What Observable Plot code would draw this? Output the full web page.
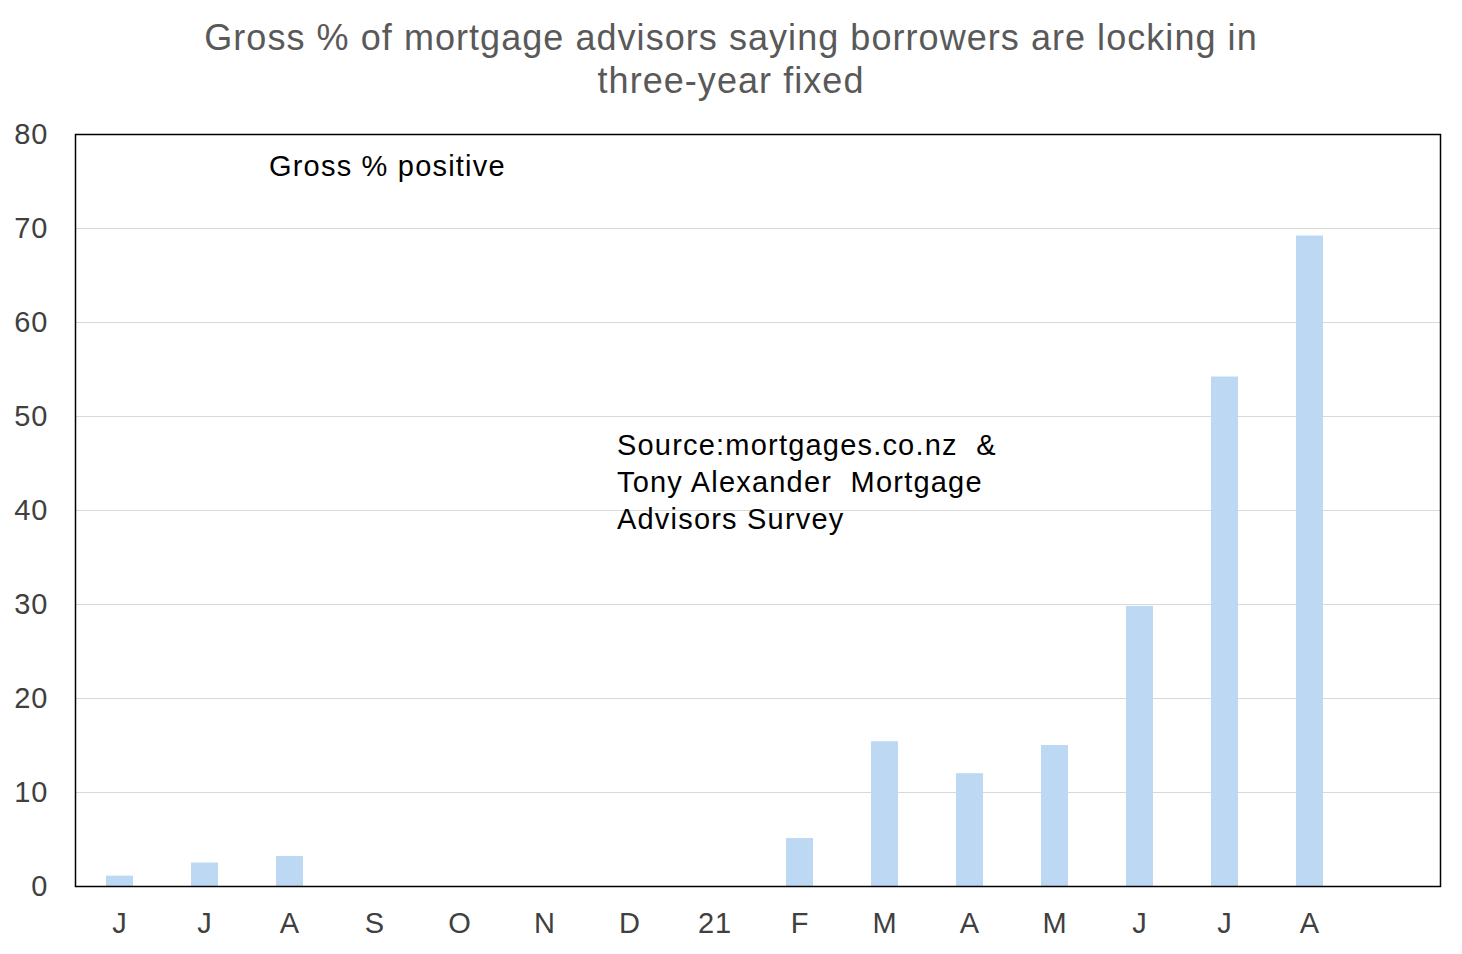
<!DOCTYPE html>
<html>
<head>
<meta charset="utf-8">
<script src="https://cdn.jsdelivr.net/npm/d3@7"></script>
<script src="https://cdn.jsdelivr.net/npm/@observablehq/plot@0.6"></script>
<style>
  body { margin: 0; background: #fff; font-family: "Liberation Sans", Arial, sans-serif; }
  #title { height: 110px; box-sizing: border-box; padding-top: 16px; text-align: center;
           font-size: 36px; line-height: 43px; color: #595959; letter-spacing: 1.05px; }
  #chart svg { display: block; }
  #chart svg text { letter-spacing: 1px; }
  #chart svg g[aria-label="text"] text { letter-spacing: 1.2px; }
</style>
</head>
<body>
<div id="title">Gross % of mortgage advisors saying borrowers are locking in<br>three-year fixed</div>
<div id="chart"></div>
<script>
// Month slots (unique ids), their tick labels, and the series values (null = no bar)
const months = ["Jun20","Jul20","Aug20","Sep20","Oct20","Nov20","Dec20","Jan21","Feb21","Mar21","Apr21","May21","Jun21","Jul21","Aug21","Sep21"];
const tickLabels = ["J","J","A","S","O","N","D","21","F","M","A","M","J","J","A",""];
const grossPositive = [1.1, 2.5, 3.2, null, null, null, null, null, 5.1, 15.4, 12.0, 15.0, 29.8, 54.2, 69.2, null];
const yTicks = [0, 10, 20, 30, 40, 50, 60, 70, 80];

const data = months.map((m, i) => ({month: m, value: grossPositive[i]})).filter(d => d.value != null);
const labelOf = new Map(months.map((m, i) => [m, tickLabels[i]]));

const seriesLabel = [{month: "Aug20", value: 76.6, text: "Gross % positive"}];
const sourceNote = [{month: "Dec20", value: 43.2, text: "Source:mortgages.co.nz  &\nTony Alexander  Mortgage\nAdvisors Survey"}];

const chart = Plot.plot({
  width: 1462,
  height: 844,
  marginTop: 24,
  marginBottom: 68,
  marginLeft: 75,
  marginRight: 22,
  style: {fontFamily: "'Liberation Sans', Arial, sans-serif", fontSize: "29px", color: "#404040", background: "#fff"},
  x: {domain: months, paddingInner: 0.68, paddingOuter: 0.34, label: null, tickSize: 0, tickPadding: 26, tickFormat: d => labelOf.get(d)},
  y: {domain: [0, 80], ticks: yTicks, label: null, tickSize: 0, tickPadding: 26, grid: false},
  marks: [
    Plot.gridY(yTicks, {stroke: "#d9d9d9", strokeOpacity: 1, strokeWidth: 1}),
    Plot.barY(data, {x: "month", y: "value", fill: "#bdd8f3"}),
    Plot.frame({stroke: "#000", strokeWidth: 1.5}),
    Plot.axisX({tickSize: 0, tickPadding: 26, tickFormat: d => labelOf.get(d), fill: "#404040", fontSize: 29, label: null}),
    Plot.axisY(yTicks, {tickSize: 0, tickPadding: 27, fill: "#404040", fontSize: 29, label: null}),
    Plot.text(seriesLabel, {x: "month", y: "value", text: "text", dx: -21, textAnchor: "start", lineAnchor: "middle", fontSize: 29, fill: "#000"}),
    Plot.text(sourceNote, {x: "month", y: "value", text: "text", dx: -13, textAnchor: "start", lineAnchor: "middle", lineHeight: 1.28, fontSize: 29, fill: "#000"})
  ]
});
document.getElementById("chart").appendChild(chart);
</script>
</body>
</html>
